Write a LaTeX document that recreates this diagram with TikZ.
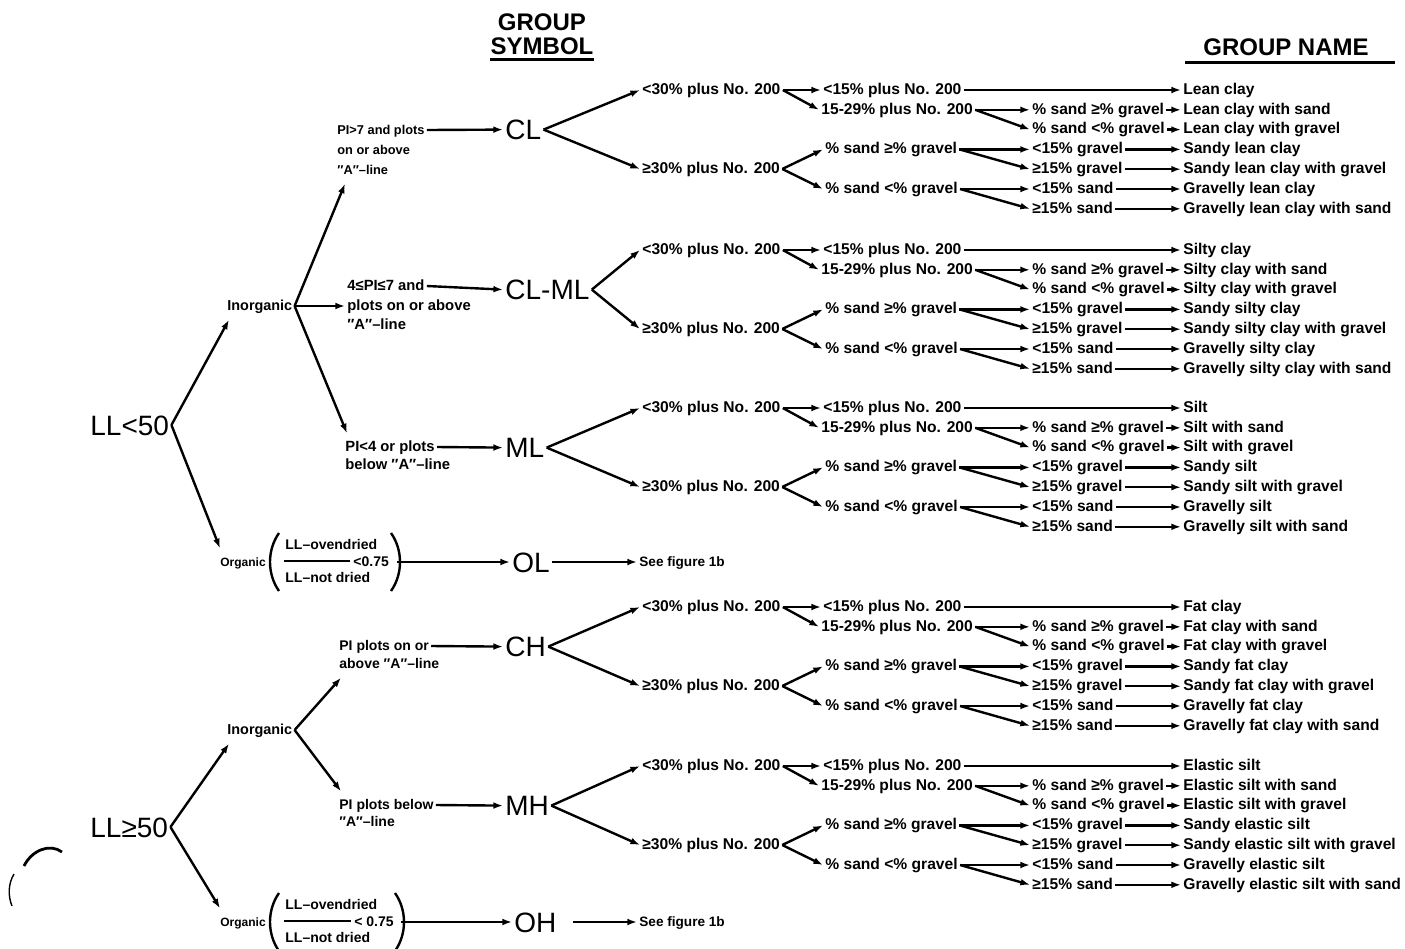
\documentclass[tikz,border=0pt]{standalone}
\usepackage{fontspec}
\setmainfont{Liberation Sans}
\usetikzlibrary{arrows.meta}
\tikzset{
  arr/.style={line width=1.2pt,-{Latex[length=4.8pt,width=3.4pt]}},
  sm/.style={font=\fontsize{7.8}{9}\selectfont\bfseries, inner sep=1pt, anchor=west, text height=5.8pt, text depth=1.5pt},
  crit/.style={sm, font=\fontsize{#1}{9}\selectfont\bfseries},
  big/.style={font=\fontsize{14}{16}\selectfont, inner sep=1pt, anchor=west, text height=10pt, text depth=0pt},
  hd/.style={font=\fontsize{12}{12}\selectfont\bfseries, inner sep=0pt, align=center},
  stroke/.style={line width=1.2pt},
}
\newcommand\qA{″A″–line}
\newcommand\soilblock[9]{%
 \path (640,#2) node[sm] (#1lt30) {<30\% plus No. 200}
  (640,#2+79) node[sm] (#1ge30) {≥30\% plus No. 200}
  (821,#2) node[sm] (#1lt15) {<15\% plus No. 200}
  (819,#2+19.8) node[sm] (#1m15) {15-29\% plus No. 200}
  (823,#2+59.4) node[sm] (#1sg) {\% sand ≥\% gravel}
  (823,#2+99) node[sm] (#1sl) {\% sand <\% gravel}
  (1030,#2+19.8) node[sm] (#1c2) {\% sand ≥\% gravel}
  (1030,#2+39.6) node[sm] (#1c3) {\% sand <\% gravel}
  (1030,#2+59.4) node[sm] (#1c4) {<15\% gravel}
  (1030,#2+79.2) node[sm] (#1c5) {≥15\% gravel}
  (1030,#2+99) node[sm] (#1c6) {<15\% sand}
  (1030,#2+118.8) node[sm] (#1c7) {≥15\% sand}
  (1181,#2) node[sm] (#1n1) {#3}
  (1181,#2+19.8) node[sm] (#1n2) {#4}
  (1181,#2+39.6) node[sm] (#1n3) {#5}
  (1181,#2+59.4) node[sm] (#1n4) {#6}
  (1181,#2+79.2) node[sm] (#1n5) {#7}
  (1181,#2+99) node[sm] (#1n6) {#8}
  (1181,#2+118.8) node[sm] (#1n7) {#9};
 \draw[arr] (#1lt30.east) -- (#1lt15.west);
 \draw[arr] (#1lt30.east) -- (#1m15.west);
 \draw[arr] (#1ge30.east) -- (#1sg.west);
 \draw[arr] (#1ge30.east) -- (#1sl.west);
 \draw[arr] (#1lt15.east) -- (#1n1.west);
 \draw[arr] (#1m15.east) -- (#1c2.west);
 \draw[arr] (#1m15.east) -- (#1c3.west);
 \draw[arr] (#1sg.east) -- (#1c4.west);
 \draw[arr] (#1sg.east) -- (#1c5.west);
 \draw[arr] (#1sl.east) -- (#1c6.west);
 \draw[arr] (#1sl.east) -- (#1c7.west);
 \foreach \i in {2,...,7} {\draw[arr] (#1c\i.east) -- (#1n\i.west);}
}
\begin{document}
\begin{tikzpicture}[x=0.5pt,y=-0.5pt]
\useasboundingbox (0,0) rectangle (1405,949);

% headers
\node[hd] (gsym) at (542,34) {GROUP\\SYMBOL};
\draw[line width=1.5pt] ([yshift=-2.5pt]gsym.south west) -- ([yshift=-2.5pt]gsym.south east);
\node[hd] (gname) at (1286,47) {GROUP NAME};
\coordinate (ulA) at (1185,62);
\coordinate (ulB) at (1395,62);
\draw[line width=1.5pt] (ulA) -- (ulB);

% right blocks
\soilblock{A}{90}{Lean clay}{Lean clay with sand}{Lean clay with gravel}{Sandy lean clay}{Sandy lean clay with gravel}{Gravelly lean clay}{Gravelly lean clay with sand}
\soilblock{B}{250}{Silty clay}{Silty clay with sand}{Silty clay with gravel}{Sandy silty clay}{Sandy silty clay with gravel}{Gravelly silty clay}{Gravelly silty clay with sand}
\soilblock{C}{408}{Silt}{Silt with sand}{Silt with gravel}{Sandy silt}{Sandy silt with gravel}{Gravelly silt}{Gravelly silt with sand}
\soilblock{D}{607}{Fat clay}{Fat clay with sand}{Fat clay with gravel}{Sandy fat clay}{Sandy fat clay with gravel}{Gravelly fat clay}{Gravelly fat clay with sand}
\soilblock{E}{766}{Elastic silt}{Elastic silt with sand}{Elastic silt with gravel}{Sandy elastic silt}{Sandy elastic silt with gravel}{Gravelly elastic silt}{Gravelly elastic silt with sand}

% group symbols
\node[big] (sA) at (503,129.6) {CL};
\node[big] (sB) at (503,289.6) {CL-ML};
\node[big] (sC) at (503,447.6) {ML};
\node[big] (sD) at (503,646.6) {CH};
\node[big] (sE) at (503,805.6) {MH};
\foreach \b in {A,B,C,D,E} {
  \draw[arr] (s\b.east) -- (\b lt30.west);
  \draw[arr] (s\b.east) -- (\b ge30.west);
}

% criteria
\node[crit=6.4] (pA1) at (335,130) {PI>7 and plots};
\node[crit=6.4] (pA2) at (335,150) {on or above};
\node[crit=6.4] (pA3) at (335,170) {\qA};
\node[crit=7.4] (pB1) at (345,286) {4≤PI≤7 and};
\node[crit=7.4] (pB2) at (345,306) {plots on or above};
\node[crit=7.4] (pB3) at (345,325) {\qA};
\node[crit=7.4] (pC1) at (343,447) {PI<4 or plots};
\node[crit=7.4] (pC2) at (343,465) {below \qA};
\node[crit=7] (pD1) at (337,646) {PI plots on or};
\node[crit=7] (pD2) at (337,664) {above \qA};
\node[crit=7] (pE1) at (337,805) {PI plots below};
\node[crit=7] (pE2) at (337,822) {\qA};
\draw[arr] (pA1.east) -- (sA.west);
\draw[arr] (pB1.east) -- (sB.west);
\draw[arr] (pC1.east) -- (sC.west);
\draw[arr] (pD1.east) -- (sD.west);
\draw[arr] (pE1.east) -- (sE.west);

% LL and Inorganic
\node[big] (LLa) at (88,425) {LL<50};
\node[big] (LLb) at (88,827) {LL≥50};
\node[crit=7.2] (inA) at (225,306) {Inorganic};
\node[crit=7.2] (inB) at (225,730) {Inorganic};
\draw[arr] (inA.east) -- ([xshift=5pt,yshift=-2pt]pA3.south west);
\draw[arr] (inA.east) -- (pB2.west);
\draw[arr] (inA.east) -- ([xshift=2pt,yshift=2pt]pC1.north west);
\draw[arr] (inB.east) -- ([xshift=2pt,yshift=-2pt]pD2.south west);
\draw[arr] (inB.east) -- ([xshift=2pt,yshift=2pt]pE1.north west);

% Organic A
\node[crit=6] (orgA) at (218,562) {Organic};
\node[crit=7] (numA) at (283,545) {LL–ovendried};
\node[crit=7] (denA) at (283,578) {LL–not dried};
\node[crit=7] (ltA) at (351,562) {<0.75};
\coordinate (barA1) at (284,561);
\coordinate (barA2) at (350,561);
\draw[line width=1.3pt] (barA1) -- (barA2);
\draw[stroke] (279,533) .. controls (267,550) and (267,574) .. (279,591);
\draw[stroke] (391,533) .. controls (403,550) and (403,574) .. (391,591);
\coordinate (rpA) at (397,562);
\node[big] (OL) at (510,562) {OL};
\node[crit=6.8] (seeA) at (637,562) {See figure 1b};
\draw[arr] (rpA) -- (OL.west);
\draw[arr] (OL.east) -- (seeA.west);

% Organic B
\node[crit=6] (orgB) at (218,922) {Organic};
\node[crit=7] (numB) at (283,905) {LL–ovendried};
\node[crit=7] (denB) at (283,938) {LL–not dried};
\node[crit=7] (ltB) at (352,922) {< 0.75};
\coordinate (barB1) at (284,921);
\coordinate (barB2) at (351,921);
\draw[line width=1.3pt] (barB1) -- (barB2);
\draw[stroke] (279,893) .. controls (267,910) and (267,934) .. (279,951);
\draw[stroke] (395,893) .. controls (407,910) and (407,934) .. (395,951);
\coordinate (rpB) at (401,922);
\node[big] (OH) at (512,922) {OH};
\node[crit=6.8] (seeB) at (637,922) {See figure 1b};
\draw[arr] (rpB) -- (OH.west);
\draw[arr, shorten <=7pt] (OH.east) -- (seeB.west);

\draw[arr] (LLa.east) -- ([xshift=2pt,yshift=-2pt]inA.south west);
\draw[arr] (LLa.east) -- ([xshift=1pt,yshift=2pt]orgA.north west);
\draw[arr] (LLb.east) -- ([xshift=2pt,yshift=-2pt]inB.south west);
\draw[arr] (LLb.east) -- ([xshift=1pt,yshift=2pt]orgB.north west);

% scan marks
\draw[line width=1.4pt] (24,866) .. controls (32,850) and (50,843) .. (62,852);
\draw[line width=0.7pt] (14,874) .. controls (8,884) and (8,896) .. (12,906);
\end{tikzpicture}
\end{document}
